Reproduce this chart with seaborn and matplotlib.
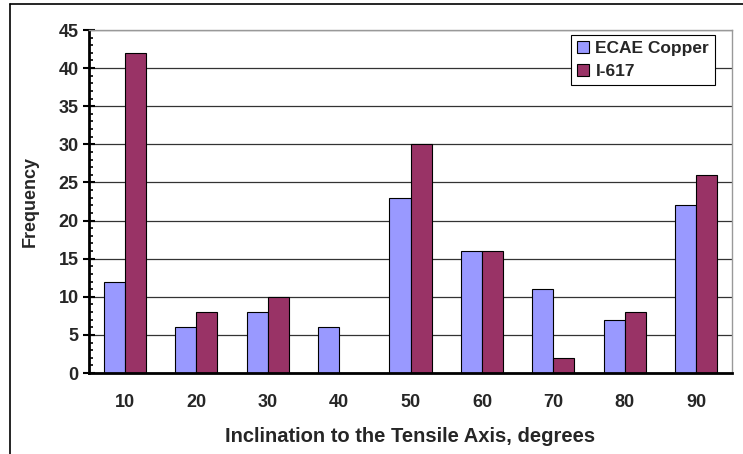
import pandas as pd
import matplotlib.pyplot as plt
import seaborn as sns
from matplotlib.lines import Line2D
from matplotlib.ticker import MultipleLocator, FixedLocator

angles = ['10', '20', '30', '40', '50', '60', '70', '80', '90']
ecae_copper = [12, 6, 8, 6, 23, 16, 11, 7, 22]
i617 = [42, 8, 10, 0, 30, 16, 2, 8, 26]
series = ['ECAE Copper', 'I-617']
colors = ['#9999FF', '#993366']

df = pd.DataFrame({
    'angle': angles * 2,
    'freq': ecae_copper + i617,
    'series': [series[0]] * len(angles) + [series[1]] * len(angles),
})

sns.set_style('white')
plt.rcParams['font.family'] = ['Liberation Sans', 'DejaVu Sans']
plt.rcParams['font.weight'] = 'bold'

fig = plt.figure(figsize=(7.43, 4.54), dpi=100)
ax = fig.add_axes([89 / 743, 81 / 454, 643 / 743, 343 / 454])

sns.barplot(data=df, x='angle', y='freq', hue='series', order=angles,
            hue_order=series, palette=colors, width=0.59, ax=ax,
            edgecolor='black', linewidth=0.8, saturation=1, errorbar=None)

ax.set_ylim(0, 45)
ax.set_xlim(-0.5, 8.5)
ax.yaxis.set_major_locator(MultipleLocator(5))
ax.yaxis.set_minor_locator(MultipleLocator(1))
ax.grid(axis='y', color='#333333', linewidth=0.9)
ax.set_axisbelow(True)

# x ticks between categories, labels at centers
ax.xaxis.set_minor_locator(FixedLocator([i - 0.5 for i in range(len(angles) + 1)]))
ax.tick_params(axis='x', which='major', length=0, pad=15, labelsize=13)
ax.tick_params(axis='x', which='minor', direction='inout', length=9, width=2, color='black')
ax.tick_params(axis='y', which='major', direction='inout', length=9, width=1.5,
               color='black', labelsize=13, pad=3, left=True)
ax.tick_params(axis='y', which='minor', direction='in', length=3, width=1.2,
               color='black', left=True)
for lab in ax.get_xticklabels() + ax.get_yticklabels():
    lab.set_fontweight('bold')

for s in ['left', 'bottom']:
    ax.spines[s].set_color('black')
    ax.spines[s].set_linewidth(2)
for s in ['top', 'right']:
    ax.spines[s].set_color('#999999')
    ax.spines[s].set_linewidth(1)

ax.set_xlabel('Inclination to the Tensile Axis, degrees', fontsize=14.5,
              fontweight='bold', labelpad=12)
ax.set_ylabel('Frequency', fontsize=13, fontweight='bold', labelpad=14)

handles = [plt.Rectangle((0, 0), 1, 1, facecolor=c, edgecolor='black', linewidth=0.8)
           for c in colors]
leg = ax.legend(handles, series, loc='upper right', bbox_to_anchor=(0.974, 0.985),
                borderaxespad=0, fancybox=False, framealpha=1, edgecolor='black',
                prop={'weight': 'bold', 'size': 12.5}, handlelength=0.7,
                handleheight=0.7, handletextpad=0.35, borderpad=0.35,
                labelspacing=0.45)
leg.get_frame().set_linewidth(0.8)

# outer chart frame
fig.add_artist(Line2D([10 / 743, 10 / 743], [0, 450 / 454], color='black', lw=1.2))
fig.add_artist(Line2D([10 / 743, 1], [450 / 454, 450 / 454], color='black', lw=1.2))

fig.savefig('out.png', dpi=100)
